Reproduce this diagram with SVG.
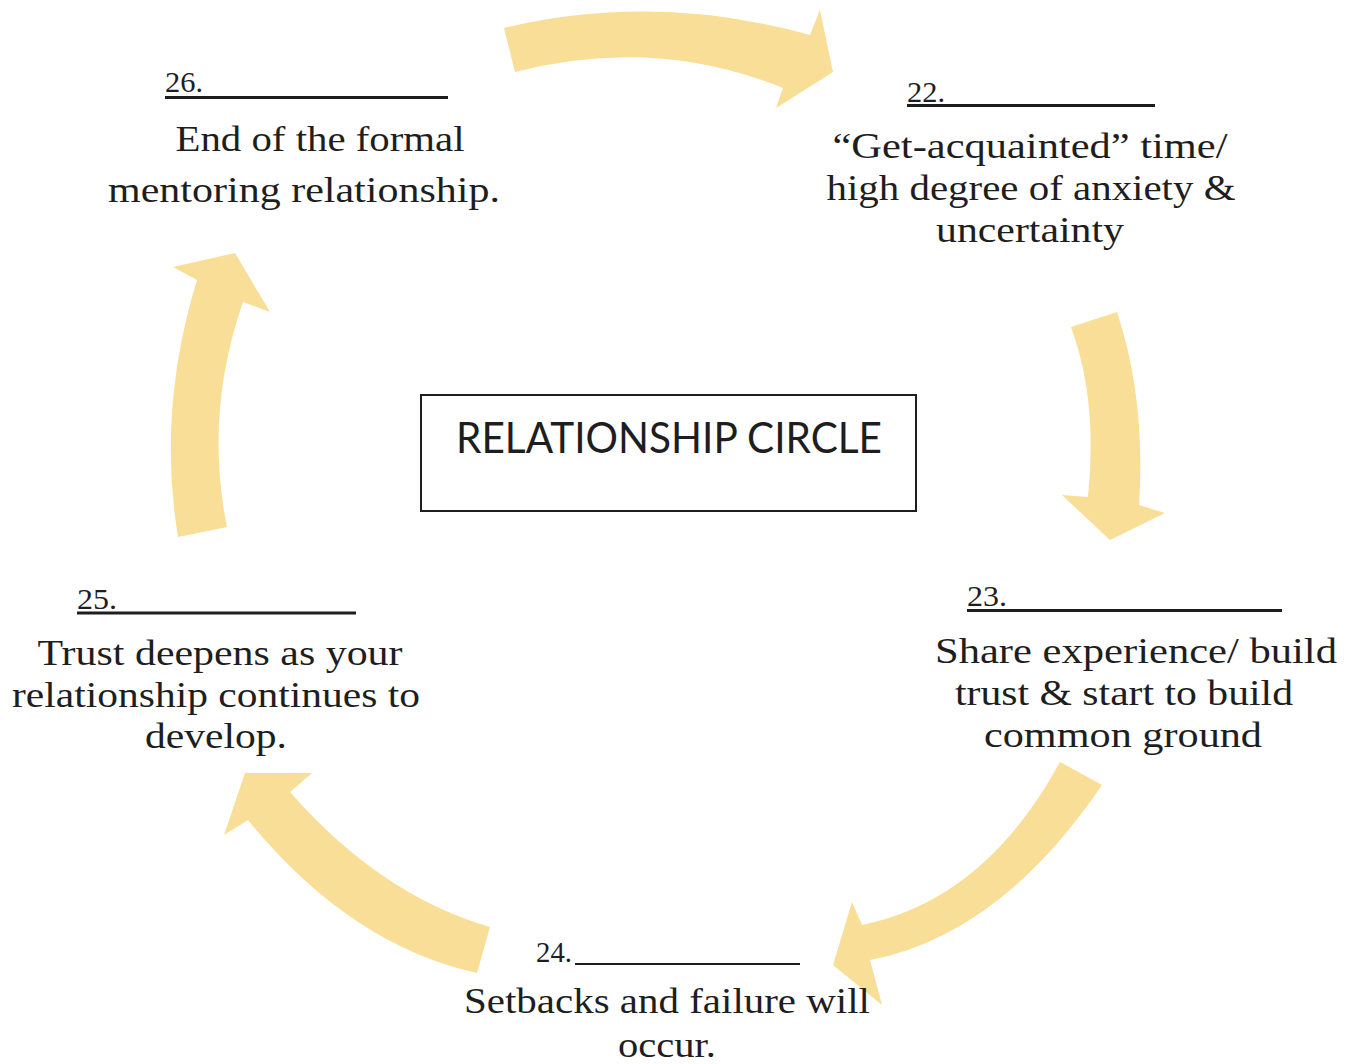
<svg xmlns="http://www.w3.org/2000/svg" width="1357" height="1064" viewBox="0 0 1357 1064">
  <style>
    .arrow { fill: #f8de96; stroke: none; }
    .txt { font-family: "Liberation Serif", "Times New Roman", serif; font-size: 36px; fill: #1e1e1e; text-anchor: middle; }
    .num { font-family: "Liberation Serif", "Times New Roman", serif; font-size: 30px; fill: #1e1e1e; }
    .rule { stroke: #1e1e1e; stroke-width: 3; }
    .title { font-family: "Lato", "Open Sans", "Liberation Sans", sans-serif; font-size: 42px; fill: #1e1e1e; }
    .box { fill: none; stroke: #1e1e1e; stroke-width: 2; }
  </style>
  <rect width="1357" height="1064" fill="#ffffff"/>

  <g id="connectors">
    <path class="arrow" d="M504,28 Q655,-8 810,35 L820,10 L833,72 L776,108 L783,88 Q655,36 515,72 Z"/>
    <path class="arrow" d="M1071,327 Q1098,400 1088,497 L1062,495 L1110,540 L1165,513 L1139,505 Q1146,400 1117,312 Z"/>
    <path class="arrow" d="M1060,762 Q985,900 862,925 L852,902 L833,965 L882,1005 L870,960 Q1000,935 1102,785 Z"/>
    <path class="arrow" d="M490,927 Q380,895 290,792 L312,773 L245,773 L224,835 L248,820 Q350,945 477,973 Z"/>
    <path class="arrow" d="M178,537 Q157,410 197,280 L173,267 L235,253 L270,312 L243,302 Q204,414 227,527 Z"/>
  </g>

  <g id="title">
    <rect class="box" x="421" y="395" width="495" height="116"/>
    <text class="title" x="456" y="453" textLength="426" lengthAdjust="spacingAndGlyphs">RELATIONSHIP CIRCLE</text>
  </g>

  <g id="node-26">
    <text class="num" x="165" y="92" textLength="38" lengthAdjust="spacingAndGlyphs">26.</text>
    <line class="rule" x1="165" y1="97.5" x2="448" y2="97.5"/>
    <text class="txt" x="320" y="151" textLength="289" lengthAdjust="spacingAndGlyphs">End of the formal</text>
    <text class="txt" x="304" y="202" textLength="392" lengthAdjust="spacingAndGlyphs">mentoring relationship.</text>
  </g>

  <g id="node-22">
    <text class="num" x="907" y="102" textLength="38" lengthAdjust="spacingAndGlyphs">22.</text>
    <line class="rule" x1="907" y1="105.5" x2="1155" y2="105.5"/>
    <text class="txt" x="1030" y="158" textLength="395" lengthAdjust="spacingAndGlyphs">“Get-acquainted” time/</text>
    <text class="txt" x="1031" y="200" textLength="409" lengthAdjust="spacingAndGlyphs">high degree of anxiety &amp;</text>
    <text class="txt" x="1030" y="242" textLength="188" lengthAdjust="spacingAndGlyphs">uncertainty</text>
  </g>

  <g id="node-23">
    <text class="num" x="967" y="606" textLength="40" lengthAdjust="spacingAndGlyphs">23.</text>
    <line class="rule" x1="967" y1="610.5" x2="1282" y2="610.5"/>
    <text class="txt" x="1136" y="663" textLength="402" lengthAdjust="spacingAndGlyphs">Share experience/ build</text>
    <text class="txt" x="1124" y="705" textLength="338" lengthAdjust="spacingAndGlyphs">trust &amp; start to build</text>
    <text class="txt" x="1123" y="747" textLength="278" lengthAdjust="spacingAndGlyphs">common ground</text>
  </g>

  <g id="node-25">
    <text class="num" x="77" y="609" textLength="40" lengthAdjust="spacingAndGlyphs">25.</text>
    <line class="rule" x1="77" y1="613" x2="356" y2="613"/>
    <text class="txt" x="220" y="665" textLength="365" lengthAdjust="spacingAndGlyphs">Trust deepens as your</text>
    <text class="txt" x="216" y="707" textLength="408" lengthAdjust="spacingAndGlyphs">relationship continues to</text>
    <text class="txt" x="216" y="748" textLength="142" lengthAdjust="spacingAndGlyphs">develop.</text>
  </g>

  <g id="node-24">
    <text class="num" x="536" y="962" textLength="36" lengthAdjust="spacingAndGlyphs">24.</text>
    <line class="rule" x1="575" y1="964" x2="800" y2="964" style="stroke-width:2"/>
    <text class="txt" x="667" y="1013" textLength="406" lengthAdjust="spacingAndGlyphs">Setbacks and failure will</text>
    <text class="txt" x="667" y="1057" textLength="98" lengthAdjust="spacingAndGlyphs">occur.</text>
  </g>
</svg>
